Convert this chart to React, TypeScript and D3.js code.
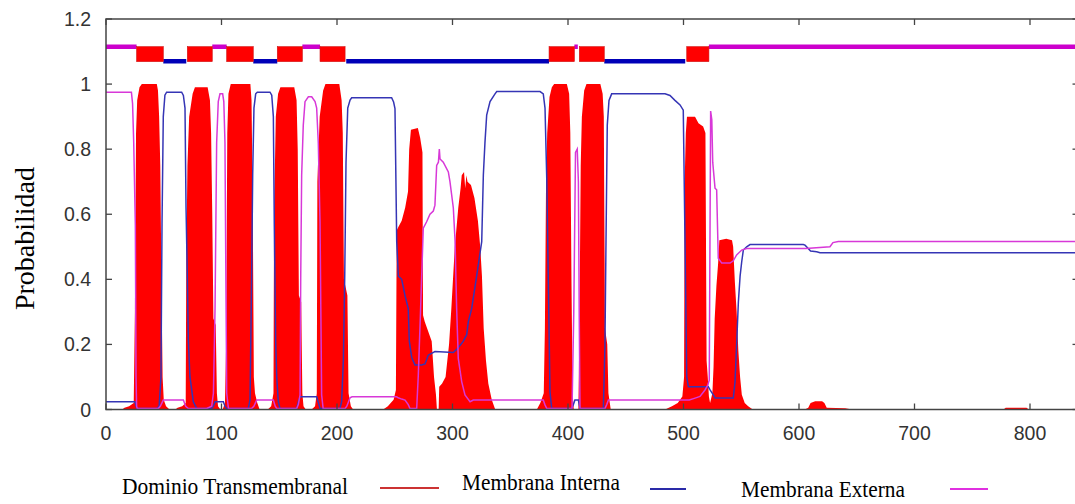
import React from 'react';
import * as d3 from 'd3';

type P = [number, number];

// Probability of transmembrane helix (red filled area)
const transmembrane: P[] = [
  [0, 0], [14, 0], [16, 0.005], [20, 0.01], [24, 0.02], [25, 0.3], [26, 0.85], [27, 0.95], [29, 0.99], [31, 1.0], [44, 1.0], [45, 0.98], [46, 0.9], [47, 0.75], [48, 0.4], [49, 0.1], [50, 0.03], [52, 0.01], [55, 0],
  [60, 0], [62, 0.005], [66, 0.01], [69, 0.02], [69.5, 0.45], [70.5, 0.75], [72, 0.9], [75, 0.97], [77, 0.99], [88, 0.99], [90, 0.95], [91, 0.85], [92, 0.6], [93, 0.28], [95, 0.26], [96, 0.05], [97, 0.01], [99, 0],
  [101, 0], [103, 0.02], [104, 0.2], [105, 0.85], [106, 0.97], [108, 1.0], [125, 1.0], [126, 0.95], [127, 0.65], [128, 0.1], [129, 0.05], [131, 0.02], [133, 0],
  [140, 0], [143, 0.01], [145, 0.05], [145.5, 0.6], [147, 0.9], [149, 0.97], [151, 0.99], [163, 0.99], [165, 0.95], [166, 0.8], [167, 0.35], [169, 0.33], [170, 0.05], [171, 0.01], [173, 0],
  [178, 0], [181, 0.01], [182.5, 0.05], [183, 0.7], [185, 0.9], [188, 0.98], [190, 1.0], [202, 1.0], [204, 0.95], [205, 0.85], [206, 0.4], [209, 0.35], [210, 0.05], [212, 0.01], [214, 0],
  [240, 0], [244, 0.01], [249, 0.03], [251, 0.06], [251.7, 0.55], [253, 0.56], [256, 0.58], [259, 0.62], [261.5, 0.67], [262.5, 0.8], [264, 0.86], [270, 0.865], [272, 0.835], [274, 0.79], [274.5, 0.29], [276, 0.27], [279, 0.24], [282, 0.21], [284, 0.1], [285.7, 0.045], [286.5, 0],
  [288, 0], [288.5, 0.07], [291, 0.08], [294, 0.1], [297, 0.2], [299, 0.31], [302, 0.5], [305, 0.62], [307, 0.68], [308, 0.72], [310, 0.73], [311, 0.68], [312, 0.72], [313, 0.7], [316, 0.69], [319, 0.65], [322, 0.58], [324, 0.5], [325.5, 0.41], [327, 0.25], [329, 0.15], [331, 0.08], [334, 0.03], [337, 0],
  [373, 0], [376, 0.02], [379, 0.05], [380, 0.25], [381, 0.7], [382, 0.85], [384, 0.96], [386, 0.99], [388, 1.0], [399, 1.0], [401, 0.97], [402, 0.85], [403, 0.4], [404, 0.05], [405, 0],
  [409, 0], [410, 0.3], [411, 0.75], [412, 0.9], [414, 0.98], [416, 1.0], [428, 1.0], [430, 0.97], [431, 0.9], [432, 0.25], [434, 0.2], [435, 0.05], [437, 0],
  [484, 0], [490, 0.01], [495, 0.02], [499, 0.04], [500.5, 0.1], [501, 0.7], [502, 0.85], [503, 0.9], [510, 0.9], [513, 0.88], [517, 0.87], [519, 0.85], [520, 0.15], [521, 0.1], [522, 0.04], [523, 0.02],
  [525, 0.05], [526, 0.13], [527, 0.28], [528.5, 0.38], [530, 0.45], [531, 0.52], [537, 0.525], [542, 0.52], [543, 0.5], [544.5, 0.39], [546, 0.3], [547.5, 0.18], [549, 0.1], [550.5, 0.045], [553, 0.02], [556, 0.01], [560, 0],
  [605, 0], [608, 0.005], [610, 0.02], [614, 0.025], [620, 0.025], [622, 0.02], [624, 0.005], [640, 0.004], [646, 0],
  [777, 0], [779, 0.005], [797, 0.005], [799, 0], [842, 0],
];

// Probability of inside (blue line)
const inside: P[] = [
  [0, 0.024], [25, 0.024], [26, 0.01], [27, 0.003], [44, 0.003], [46, 0.01], [47.6, 0.1], [48.5, 0.57], [49.6, 0.9], [51, 0.966], [52.5, 0.975], [65.5, 0.975], [67, 0.965], [68.4, 0.926], [69.3, 0.62], [70.4, 0.41], [71.3, 0.21], [72.7, 0.1], [75.6, 0.024], [78.5, 0.003],
  [91.5, 0.003], [93, 0.01], [94.4, 0.024], [101.6, 0.024], [103, 0.01], [104.5, 0.003], [123.2, 0.003], [124.7, 0.03], [126.1, 0.41], [127, 0.72], [128.1, 0.926], [129.6, 0.97], [131, 0.975], [142, 0.975], [143.5, 0.966], [144.9, 0.9], [145.7, 0.57], [146.9, 0.21], [147.8, 0.1], [149.2, 0.024], [150.6, 0.003],
  [165, 0.003], [166.5, 0.024], [168, 0.039], [182.4, 0.039], [184, 0.02], [185.3, 0.003], [202.6, 0.003], [204, 0.024], [205.5, 0.15], [206.7, 0.41], [207.8, 0.76], [209.3, 0.926], [211.3, 0.951], [212.7, 0.958], [247.3, 0.958], [249, 0.945], [250.2, 0.925], [251.7, 0.516],
  [253.1, 0.41], [256, 0.4], [258.9, 0.35], [261.7, 0.31], [262.6, 0.21], [264.7, 0.16], [267.5, 0.137], [273.3, 0.137], [276.2, 0.14], [279, 0.167], [284.8, 0.178], [300.7, 0.175], [305, 0.19], [309.4, 0.21], [312.3, 0.23], [313.7, 0.27], [316.6, 0.31], [320.9, 0.41], [325.3, 0.516], [326.7, 0.72], [328.1, 0.82], [329.6, 0.905], [332.5, 0.946], [336.8, 0.97], [338.3, 0.977],
  [375.8, 0.977], [378.6, 0.97], [380.1, 0.926], [381.6, 0.71], [382.9, 0.41], [384.4, 0.055], [385.9, 0.003], [403.2, 0.003], [404.6, 0.015], [406, 0.029], [409, 0.029], [410.4, 0.003], [430.6, 0.003], [432, 0.2], [432.9, 0.516], [434, 0.874], [435.5, 0.95], [437.8, 0.97],
  [484, 0.97], [488.3, 0.965], [492.6, 0.95], [497, 0.936], [499.8, 0.92], [501.3, 0.516], [502.8, 0.1], [504.2, 0.07], [521.5, 0.07], [523, 0.06], [525.8, 0.045], [527.5, 0.035], [543.1, 0.035], [544.6, 0.085], [546, 0.2], [547.5, 0.33], [549, 0.41], [550.4, 0.454], [551.8, 0.49], [554.7, 0.5], [557.6, 0.507],
  [603.7, 0.507], [605.2, 0.505], [608, 0.495], [610, 0.487], [615.3, 0.485], [618.2, 0.482], [842, 0.482],
];

// Probability of outside (magenta line)
const outside: P[] = [
  [0, 0.975], [22, 0.975], [23, 0.94], [24, 0.82], [25.4, 0.567], [26, 0.1], [26.5, 0.01], [27, 0.003], [45.3, 0.003], [47, 0.01], [49.6, 0.029], [67, 0.029], [69, 0.01], [71.3, 0.003],
  [87.2, 0.003], [91.5, 0.01], [93, 0.05], [94.4, 0.31], [95.8, 0.82], [97.2, 0.946], [98.7, 0.97], [101, 0.97], [102, 0.946], [103, 0.82], [103.8, 0.4], [104.5, 0.05], [106, 0.003], [126, 0.003], [128, 0.01], [130.5, 0.029], [144.9, 0.029], [146.5, 0.01], [147.8, 0.003],
  [165.1, 0.003], [166.5, 0.015], [168, 0.045], [168.6, 0.41], [169.4, 0.72], [170.8, 0.874], [172.3, 0.946], [175.2, 0.961], [178.1, 0.961], [181, 0.946], [182.4, 0.926], [183.8, 0.82], [185.3, 0.577], [186, 0.31], [186.7, 0.045], [188, 0.003],
  [207, 0.003], [208.5, 0.01], [211.3, 0.036], [213, 0.039], [251.7, 0.039], [253, 0.036], [256, 0.032], [258.9, 0.029], [261.7, 0.015], [263.2, 0.003], [269, 0.003], [270.4, 0.106], [272.3, 0.3], [274.7, 0.557], [277.6, 0.577], [280.5, 0.6], [283.4, 0.61], [284.8, 0.628], [286.3, 0.75], [287.8, 0.76], [288.6, 0.8], [289.2, 0.77], [292, 0.76], [296.4, 0.73], [297.8, 0.7], [300.7, 0.62], [302.2, 0.52], [303.6, 0.31], [305, 0.157], [308, 0.085], [310.8, 0.045], [315.2, 0.024], [318, 0.029],
  [378.6, 0.029], [380, 0.015], [381.6, 0.003], [403.5, 0.003], [405, 0.3], [406.5, 0.79], [408, 0.8], [409, 0.7], [409.7, 0.3], [410.4, 0.003], [432, 0.003], [433.5, 0.015], [435, 0.029],
  [505, 0.029], [510, 0.035], [514.3, 0.04], [518.6, 0.06], [521, 0.075], [522.3, 0.09], [523.5, 0.917], [524.5, 0.89], [525.3, 0.76], [527.3, 0.68], [528.7, 0.675], [530.1, 0.465], [533.1, 0.45], [540.3, 0.45], [543.1, 0.457], [546, 0.475], [550.4, 0.49], [554.7, 0.495],
  [606, 0.495], [626.8, 0.5], [629.4, 0.513], [634, 0.516], [842, 0.516],
];

// Predicted topology (top track)
const outsideSegments: P[] = [[0, 26.5], [92, 104.5], [170, 185.3], [405.5, 408.5], [522, 842]];
const insideSegments: P[] = [[49.6, 69.5], [127.5, 148.3], [208, 383.6], [431.4, 501.5]];
const tmSegments: P[] = [[26.5, 49.6], [70.4, 92], [104.5, 127.5], [148.3, 170], [185.3, 207], [383.6, 405.5], [409.8, 431.4], [502.8, 522]];
const outsideLevel = 1.1146;
const insideLevel = 1.0704;
const boxBottom = 1.069;
const boxTop = 1.115;

const xTicks = [0, 100, 200, 300, 400, 500, 600, 700, 800];
const yTicks = [0, 0.2, 0.4, 0.6, 0.8, 1, 1.2];
const yTickLabels = ['0', '0.2', '0.4', '0.6', '0.8', '1', '1.2'];
const yTitle = 'Probabilidad';
const legendLabels = ['Dominio Transmembranal', 'Membrana Interna', 'Membrana Externa'];
const legendColors = ['#cc3333', '#2a2aa8', '#e030e0'];

export default function App() {
  const xMax = 842;
  const x = d3.scaleLinear().domain([0, xMax]).range([106, 106 + xMax * 1.155]);
  const y = d3.scaleLinear().domain([0, 1.2]).range([409.5, 19]);

  const area = d3.area<P>().x((d) => x(d[0])).y0(y(0)).y1((d) => y(d[1]));
  const line = d3.line<P>().x((d) => x(d[0])).y((d) => y(d[1]));

  const left = x(0), right = x(xMax), top = y(1.2), bottom = y(0);
  const tickFont = "'Liberation Sans', Arial, sans-serif";
  const serif = "'Liberation Serif', 'Times New Roman', serif";

  const legendText = [
    { x: 122, y: 494, w: 226 },
    { x: 462, y: 490, w: 158 },
    { x: 741, y: 497, w: 164 },
  ];
  const legendLines = [
    { x1: 380, x2: 439, y: 488 },
    { x1: 650, x2: 686, y: 489 },
    { x1: 950, x2: 988, y: 489 },
  ];

  return (
    <svg width={1075} height={504} style={{ position: 'absolute', left: 0, top: 0, background: '#fff' }}>
      <defs>
        <clipPath id="plot">
          <rect x={left} y={top} width={right - left} height={bottom - top} />
        </clipPath>
      </defs>
      <rect x={0} y={0} width={1075} height={504} fill="#fff" />
      <g clipPath="url(#plot)">
        <path d={area(transmembrane) || ''} fill="#ff0000" stroke="none" />
        <path d={line(inside) || ''} fill="none" stroke="#3535b5" strokeWidth={1.5} />
        <path d={line(outside) || ''} fill="none" stroke="#d838d8" strokeWidth={1.5} />
        {outsideSegments.map((s, i) => (
          <line key={'o' + i} x1={x(s[0])} x2={x(s[1])} y1={y(outsideLevel)} y2={y(outsideLevel)} stroke="#cc00cc" strokeWidth={4.5} />
        ))}
        {insideSegments.map((s, i) => (
          <line key={'in' + i} x1={x(s[0])} x2={x(s[1])} y1={y(insideLevel)} y2={y(insideLevel)} stroke="#0000b8" strokeWidth={4.5} />
        ))}
        {tmSegments.map((s, i) => (
          <rect key={'tm' + i} x={x(s[0])} y={y(boxTop)} width={x(s[1]) - x(s[0])} height={y(boxBottom) - y(boxTop)} fill="#ff0000" stroke="#d01010" strokeWidth={0.6} />
        ))}
      </g>
      {/* frame */}
      <rect x={left} y={top} width={right - left} height={bottom - top} fill="none" stroke="#444" strokeWidth={1.5} />
      {/* ticks */}
      {xTicks.map((t) => (
        <g key={'xt' + t}>
          <line x1={x(t)} x2={x(t)} y1={bottom} y2={bottom - 6} stroke="#444" strokeWidth={1.3} />
          <line x1={x(t)} x2={x(t)} y1={top} y2={top + 6} stroke="#444" strokeWidth={1.3} />
          <text x={x(t)} y={440} textAnchor="middle" fontFamily={tickFont} fontSize={19.5} fill="#333">{t}</text>
        </g>
      ))}
      {yTicks.map((t, i) => (
        <g key={'yt' + t}>
          <line x1={left} x2={left + 6} y1={y(t)} y2={y(t)} stroke="#444" strokeWidth={1.3} />
          <line x1={right} x2={right - 6} y1={y(t)} y2={y(t)} stroke="#444" strokeWidth={1.3} />
          <text x={91} y={y(t)} dy="0.36em" textAnchor="end" fontFamily={tickFont} fontSize={19.5} fill="#333">{yTickLabels[i]}</text>
        </g>
      ))}
      <text transform="translate(34,238.5) rotate(-90)" textAnchor="middle" fontFamily={serif} fontSize={28} fill="#000">{yTitle}</text>
      {/* legend */}
      {legendLabels.map((l, i) => (
        <g key={'lg' + i}>
          <text x={legendText[i].x} y={legendText[i].y} fontFamily={serif} fontSize={23} textLength={legendText[i].w} lengthAdjust="spacingAndGlyphs" fill="#000">{l}</text>
          <line x1={legendLines[i].x1} x2={legendLines[i].x2} y1={legendLines[i].y} y2={legendLines[i].y} stroke={legendColors[i]} strokeWidth={2} />
        </g>
      ))}
    </svg>
  );
}
